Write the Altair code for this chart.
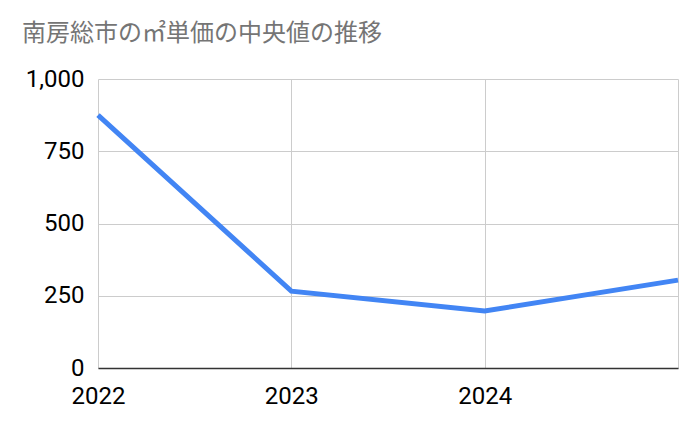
import altair as alt
import pandas as pd

years = [2022, 2023, 2024, 2025]
values = [875, 266, 197, 304]

df = pd.DataFrame({"year": years, "value": values})

line = alt.Chart(df).mark_line(color="#4285F4", strokeWidth=5, strokeJoin="miter").encode(
    x=alt.X("year:Q",
            scale=alt.Scale(domain=[2022, 2025], nice=False, zero=False),
            axis=alt.Axis(values=years, labelExpr="datum.value == 2025 ? '' : datum.value",
                          title=None, labelFlush=False, ticks=False, domain=True,
                          domainColor="#333333", domainWidth=1.5, grid=True,
                          gridColor="#cccccc", labelFontSize=24, labelColor="#000000",
                          labelFont="Roboto", labelPadding=16)),
    y=alt.Y("value:Q",
            scale=alt.Scale(domain=[0, 1000], nice=False),
            axis=alt.Axis(values=[0, 250, 500, 750, 1000], format=",.0f", title=None,
                          ticks=False, domain=False, grid=True, gridColor="#cccccc",
                          labelFontSize=24, labelColor="#000000", labelFont="Roboto",
                          labelPadding=14)),
)

chart = line.properties(
    width=580,
    height=289,
    autosize=alt.AutoSizeParams(type="none"),
    padding={"left": 90, "top": 71, "right": 14, "bottom": 57},
    title=alt.TitleParams("南房総市の㎡単価の中央値の推移", anchor="start", frame="group",
                          dx=-76, offset=21, fontSize=24, fontWeight="normal",
                          color="#757575", font="Noto Sans CJK JP"),
).configure_view(stroke=None)

chart.save("out.html", embed_options={"renderer": "svg", "actions": False})
